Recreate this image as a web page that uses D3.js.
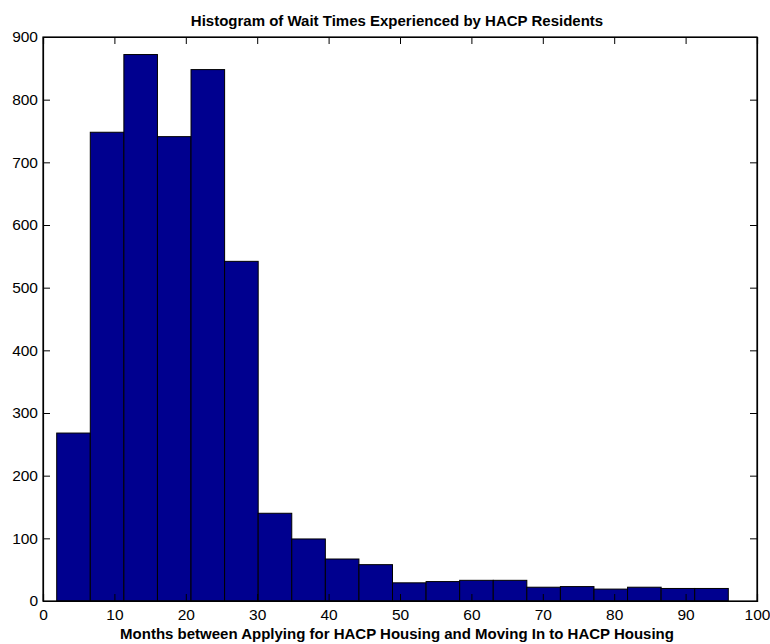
<!DOCTYPE html>
<html>
<head>
<meta charset="utf-8">
<script src="https://cdn.jsdelivr.net/npm/d3@7"></script>
<style>
  html, body { margin: 0; padding: 0; background: #fff; }
  svg { display: block; }
  text { font-family: "Liberation Sans", Arial, Helvetica, sans-serif; fill: #000; }
</style>
</head>
<body>
<svg id="chart" width="770" height="644"></svg>
<script>
// ---- data ----
const binStart = 1.92;
const binWidth = 4.703;
const counts = [268, 748, 872, 741, 848, 542, 140, 99, 67, 58, 29, 31, 33, 33, 22, 23, 19, 22, 20, 20];
const xTicks = [0, 10, 20, 30, 40, 50, 60, 70, 80, 90, 100];
const yTicks = [0, 100, 200, 300, 400, 500, 600, 700, 800, 900];
const titleText = "Histogram of Wait Times Experienced by HACP Residents";
const xLabelText = "Months between Applying for HACP Housing and Moving In to HACP Housing";

const bins = counts.map((c, i) => ({ x0: binStart + i * binWidth, x1: binStart + (i + 1) * binWidth, count: c }));

// ---- layout ----
const L = 43, R = 757, T = 37, B = 601;
const svg = d3.select("#chart");
const x = d3.scaleLinear().domain([0, 100]).range([L, R]);
const y = d3.scaleLinear().domain([0, 900]).range([B, T]);

// bars
svg.append("g").selectAll("rect").data(bins).join("rect")
  .attr("x", d => x(d.x0))
  .attr("y", d => y(d.count))
  .attr("width", d => x(d.x1) - x(d.x0))
  .attr("height", d => y(0) - y(d.count))
  .attr("fill", "#00008F")
  .attr("stroke", "#000")
  .attr("stroke-width", 1);

const tickLen = 7;
// bottom axis
const xAxisB = svg.append("g").attr("transform", `translate(0,${B})`)
  .call(d3.axisBottom(x).tickValues(xTicks).tickSize(-tickLen).tickPadding(8).tickFormat(d3.format("d")));
// top axis
const xAxisT = svg.append("g").attr("transform", `translate(0,${T})`)
  .call(d3.axisTop(x).tickValues(xTicks).tickSize(-tickLen).tickFormat(""));
// left axis
const yAxisL = svg.append("g").attr("transform", `translate(${L},0)`)
  .call(d3.axisLeft(y).tickValues(yTicks).tickSize(-tickLen).tickPadding(5).tickFormat(d3.format("d")));
// right axis
const yAxisR = svg.append("g").attr("transform", `translate(${R},0)`)
  .call(d3.axisRight(y).tickValues(yTicks).tickSize(-tickLen).tickFormat(""));

[xAxisB, xAxisT, yAxisL, yAxisR].forEach(g => {
  g.select(".domain").attr("stroke", "#000").attr("stroke-width", 1.2);
  g.selectAll(".tick line").attr("stroke", "#000").attr("stroke-width", 1);
  g.selectAll(".tick text").attr("font-size", 15.5).attr("font-family", "'Liberation Sans', Arial, sans-serif").attr("fill", "#000");
});
// outer box
svg.append("rect").attr("x", L).attr("y", T).attr("width", R - L).attr("height", B - T)
  .attr("fill", "none").attr("stroke", "#000").attr("stroke-width", 1.2);

// title
svg.append("text").attr("x", 397).attr("y", 26).attr("text-anchor", "middle")
  .attr("font-size", 15).attr("font-weight", "bold").text(titleText);
// x label
svg.append("text").attr("x", 397).attr("y", 639).attr("text-anchor", "middle")
  .attr("font-size", 15).attr("font-weight", "bold").text(xLabelText);
</script>
</body>
</html>
